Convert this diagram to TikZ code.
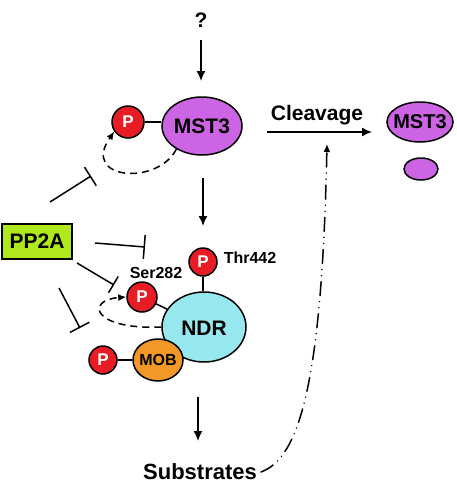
\documentclass[tikz,border=0pt]{standalone}
\usepackage{fontspec}
\setmainfont{Liberation Sans}
\usetikzlibrary{arrows.meta,shapes.geometric}
\definecolor{mst}{RGB}{204,100,228}
\definecolor{pred}{RGB}{232,28,36}
\definecolor{ndrc}{RGB}{150,232,238}
\definecolor{mobc}{RGB}{242,152,40}
\definecolor{ppa}{RGB}{176,232,30}
\begin{document}
\begin{tikzpicture}[x=1pt,y=-1pt,line width=1.5pt,
  lbl/.style={font=\fontsize{21}{21}\bfseries\selectfont},
  small/.style={font=\fontsize{16}{16}\bfseries\selectfont},
  pcirc/.style={circle,draw,fill=pred,minimum size=30pt,inner sep=0pt,text=white,font=\fontsize{17}{17}\bfseries\selectfont},
  ell/.style={ellipse,draw,inner sep=0pt},
  arr/.style={-{Latex[length=10pt,width=9pt]}},
  sarr/.style={-{Latex[length=8pt,width=7pt]}},
  dsh/.style={dash pattern=on 7pt off 5pt},
  inh/.style={-{Bar[width=22pt,line width=1.5pt]}},
  dd/.style={line cap=round,dash pattern=on 14pt off 6pt on 0.1pt off 6pt on 0.1pt off 6pt},
]
\useasboundingbox (0,0) rectangle (456,488);

% top
\node[lbl] (q) at (201,20) {?};
\node[ell,fill=mst,minimum width=80pt,minimum height=58pt] (mst) at (202,126) {};
\node[lbl] (msttxt) at (mst) {MST3};
\node[pcirc,minimum size=32pt] (p1) at (128,122) {P};
\draw (p1.east) -- (p1.east -| mst.west);
\draw[dsh,sarr] (mst.222) .. controls (158,186) and (80,180) .. (p1.215);

\coordinate (a1s) at (201,40);
\coordinate (a1e) at (201,81);
\draw[arr] (a1s) -- (a1e);

% cleavage
\node[ell,fill=mst,minimum width=66pt,minimum height=40pt] (mst2) at (420,122) {};
\node[font=\fontsize{20}{20}\bfseries\selectfont] (mst2txt) at (mst2) {MST3};
\node[ell,fill=mst,minimum width=34pt,minimum height=22pt] (frag) at (421,169) {};
\coordinate (cl1) at (267,132);
\coordinate (cl2) at (372,132);
\draw[arr] (cl1) -- (cl2);
\node[lbl] (cltxt) at (317,115) {Cleavage};

% MST3 -> NDR
\coordinate (a2s) at (203,178);
\coordinate (a2e) at (203,226);
\draw[arr] (a2s) -- (a2e);

% PP2A
\node[draw,fill=ppa,minimum width=70pt,minimum height=35pt,inner sep=0pt,lbl] (pp) at (37,241.5) {PP2A};

% NDR complex
\node[ell,fill=ndrc,minimum width=84pt,minimum height=70pt] (ndr) at (204,327) {};
\node[lbl] (ndrtxt) at (204,328) {NDR};
\node[pcirc,minimum size=28pt] (p2) at (203,262) {P};
\draw (p2.south) -- (p2.south |- ndr.north);
\node[small] (thr) at (250,258) {Thr442};
\node[small] (ser) at (156,273) {Ser282};
\node[pcirc] (p3) at (142,297) {P};
\draw (p3) -- (ndr);
\node[ell,fill=mobc,minimum width=50pt,minimum height=42pt] (mob) at (158,360) {};
\node[small] (mobtxt) at (mob) {MOB};
\node[pcirc,minimum size=28pt] (p4) at (103,360) {P};
\draw (p4) -- (mob);
\draw[dsh,sarr] (ndr.west) .. controls (92,330) and (85,300) .. (p3.west);

% inhibitions
\coordinate (i1s) at (50,202); \coordinate (i1e) at (91,176);
\coordinate (i2s) at (95,243); \coordinate (i2e) at (145,247);
\coordinate (i3s) at (77,263); \coordinate (i3e) at (114,285);
\coordinate (i4s) at (59,288); \coordinate (i4e) at (80,328);
\draw[inh] (i1s) -- (i1e);
\draw[-{Bar[width=24pt,line width=1.5pt]}] (i2s) -- (i2e);
\draw[-{Bar[width=19pt,line width=1.5pt]}] (i3s) -- (i3e);
\draw[inh] (i4s) -- (i4e);

% substrates
\coordinate (a3s) at (198,397);
\coordinate (a3e) at (198,441);
\draw[arr] (a3s) -- (a3e);
\node[font=\fontsize{22}{22}\bfseries\selectfont] (sub) at (200,472) {Substrates};
\draw[dd,sarr] (sub.east) .. controls (300,458) and (322,380) .. (327,144);
\end{tikzpicture}
\end{document}
